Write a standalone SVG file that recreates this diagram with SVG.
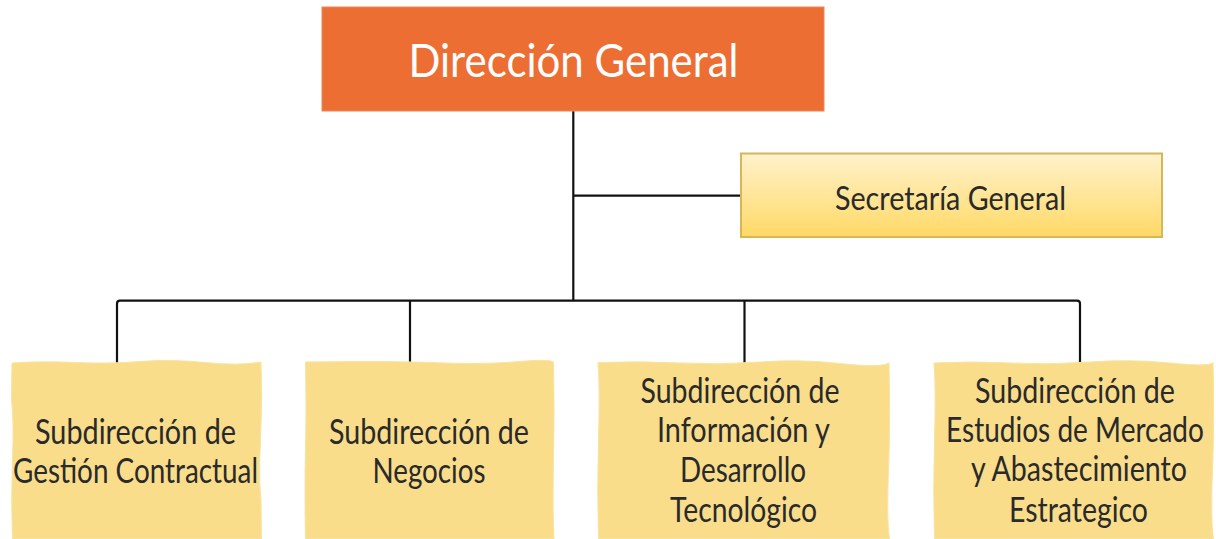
<svg xmlns="http://www.w3.org/2000/svg" width="1216" height="539" viewBox="0 0 1216 539">
<style>
.t{font-family:Lato,"Open Sans","Liberation Sans",sans-serif;fill:#2a2a2a;text-anchor:middle}
.sub{font-size:34px}
.sec{font-size:32px}
.dir{font-size:46px;fill:#ffffff}
.paper{fill:#F9DD8B;stroke:#FBE3A0;stroke-width:1}
.conn{fill:none;stroke:#111;stroke-width:2.2;stroke-linejoin:round}
</style>
<defs>
<linearGradient id="gsec" x1="0" y1="0" x2="0" y2="1">
<stop offset="0" stop-color="#FFF2CC"/>
<stop offset="1" stop-color="#FFD966"/>
</linearGradient>
</defs>
<rect width="1216" height="539" fill="#ffffff"/>
<g id="connectors">
<path class="conn" d="M573.3,111 V300.7"/>
<path class="conn" d="M573.3,195.7 H741"/>
<path class="conn" d="M117,363 V303.7 Q117,300.7 120,300.7 H1077 Q1080,300.7 1080,303.7 V363"/>
<path class="conn" d="M410,300.7 V363"/>
<path class="conn" d="M744.5,300.7 V363"/>
</g>
<g id="direccion-general">
<rect x="322" y="7" width="502" height="104" fill="#EC6E33" stroke="#EF8555" stroke-width="1"/>
<text class="t dir" x="573.5" y="77" textLength="330" lengthAdjust="spacingAndGlyphs">Dirección General</text>
</g>
<g id="secretaria-general">
<rect x="741" y="153.5" width="421" height="83.5" fill="url(#gsec)" stroke="#D6B656" stroke-width="2"/>
<text class="t sec" x="950.5" y="210" textLength="231" lengthAdjust="spacingAndGlyphs">Secretaría General</text>
</g>
<g id="sub-gestion-contractual">
<path class="paper" d="M12,363 Q40,361 75,362.5 T140,361.5 T205,362.5 T261,362 Q262.5,400 260.5,440 T261,500 L261.5,539 L12.5,539 Q11,500 12.5,460 T11.5,400 Z"/>
<text class="t sub" x="135.5" y="444" textLength="201" lengthAdjust="spacingAndGlyphs">Subdirección de</text>
<text class="t sub" x="135.5" y="483" textLength="245" lengthAdjust="spacingAndGlyphs">Gestión Contractual</text>
</g>
<g id="sub-negocios">
<path class="paper" d="M305.5,362 Q340,361.5 372,361.5 T445,363 T520,361.5 T553.5,363 Q554.5,410 553.5,460 T554,539 L305.5,539 Q304.5,490 305.5,450 T305.5,362 Z"/>
<text class="t sub" x="429" y="444" textLength="200" lengthAdjust="spacingAndGlyphs">Subdirección de</text>
<text class="t sub" x="429" y="483" textLength="113" lengthAdjust="spacingAndGlyphs">Negocios</text>
</g>
<g id="sub-informacion">
<path class="paper" d="M598,362.5 Q640,361 680,363 T760,362 T840,363.5 T889,363 Q890.5,420 888.5,470 T889.5,539 L598.5,539 Q597,490 598.5,440 T598,362.5 Z"/>
<text class="t sub" x="740" y="403" textLength="199" lengthAdjust="spacingAndGlyphs">Subdirección de</text>
<text class="t sub" x="743.5" y="442" textLength="173" lengthAdjust="spacingAndGlyphs">Información y</text>
<text class="t sub" x="743" y="482" textLength="126" lengthAdjust="spacingAndGlyphs">Desarrollo</text>
<text class="t sub" x="743.5" y="522" textLength="147" lengthAdjust="spacingAndGlyphs">Tecnológico</text>
</g>
<g id="sub-estudios">
<path class="paper" d="M934,363 Q970,361 1010,363 T1090,362 T1170,363 T1213,362.5 Q1214.5,420 1212.5,470 T1213.5,539 L934.5,539 Q933,490 934.5,440 T934,363 Z"/>
<text class="t sub" x="1075" y="403" textLength="200" lengthAdjust="spacingAndGlyphs">Subdirección de</text>
<text class="t sub" transform="translate(1075,442) scale(0.84,1)" x="0" y="0" textLength="307" lengthAdjust="spacingAndGlyphs">Estudios de Mercado</text>
<text class="t sub" transform="translate(1079,481) scale(0.84,1)" x="0" y="0" textLength="257" lengthAdjust="spacingAndGlyphs">y Abastecimiento</text>
<text class="t sub" x="1078.5" y="522" textLength="139" lengthAdjust="spacingAndGlyphs">Estrategico</text>
</g>
</svg>
